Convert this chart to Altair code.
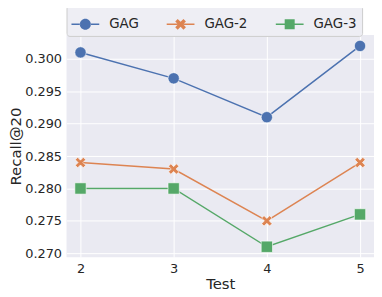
import altair as alt
import pandas as pd

tests = [2, 3, 4, 5]
series_names = ["GAG", "GAG-2", "GAG-3"]
gag = [0.301, 0.297, 0.291, 0.302]
gag2 = [0.284, 0.283, 0.275, 0.284]
gag3 = [0.280, 0.280, 0.271, 0.276]
y_ticks = [0.270, 0.275, 0.280, 0.285, 0.290, 0.295, 0.300]

colors = ["#4C72B0", "#DD8452", "#55A868"]

rows = []
for name, vals in zip(series_names, [gag, gag2, gag3]):
    for t, v in zip(tests, vals):
        rows.append({"Test": t, "Recall": v, "Series": name})
df = pd.DataFrame(rows)

X_PTS = [(0.919, -0.495), (0.424, 0), (0.919, 0.495), (0.495, 0.919), (0, 0.424),
         (-0.495, 0.919), (-0.919, 0.495), (-0.424, 0), (-0.919, -0.495),
         (-0.495, -0.919), (0, -0.424), (0.495, -0.919)]


def x_path(k):
    return "M" + "L".join(f"{x*k:.3f},{y*k:.3f}" for x, y in X_PTS) + "Z"


def segs(gap, t=0.055):
    return (f"M-1,-{t}L-{gap},-{t}L-{gap},{t}L-1,{t}Z"
            f"M{gap},-{t}L1,-{t}L1,{t}L{gap},{t}Z")


plot_shapes = ["circle", x_path(1.0), "square"]

LEG_CIRCLE = segs(0.38) + "M-0.4,0A0.4,0.4,0,1,0,0.4,0A0.4,0.4,0,1,0,-0.4,0Z"
LEG_X = segs(0.2) + x_path(0.42)
LEG_SQ = segs(0.36) + "M-0.36,-0.36L0.36,-0.36L0.36,0.36L-0.36,0.36Z"
legend_shapes = [LEG_CIRCLE, LEG_X, LEG_SQ]

color_scale = alt.Scale(domain=series_names, range=colors)

x_enc = alt.X("Test:Q", scale=alt.Scale(domain=[1.85, 5.15], nice=False),
              axis=alt.Axis(values=tests, format="d", title="Test"))
y_enc = alt.Y("Recall:Q", scale=alt.Scale(domain=[0.2694, 0.3037], nice=False, zero=False),
              axis=alt.Axis(values=y_ticks, format=".3f", title="Recall@20"))

base = alt.Chart(df)

legend = alt.Legend(
    title=None, orient="none", legendX=0, legendY=-30, direction="horizontal",
    fillColor="#EEEEF4", strokeColor="#CCCCCC", cornerRadius=3, padding=5,
    labelFontSize=13.5, labelColor="#262626", labelFont="DejaVu Sans",
    symbolSize=784, labelOffset=10, columnPadding=28,
    symbolStrokeWidth=0, symbolOpacity=1,
)

legend_layer = base.mark_point(filled=True, size=0).encode(
    x=x_enc, y=y_enc,
    color=alt.Color("Series:N", scale=color_scale, legend=legend),
    shape=alt.Shape("Series:N", scale=alt.Scale(domain=series_names, range=legend_shapes), legend=legend),
)

lines = base.mark_line(strokeWidth=1.5).encode(
    x=x_enc, y=y_enc,
    color=alt.Color("Series:N", scale=color_scale),
    detail="Series:N",
)

point_layers = []
for name, shp in zip(series_names, plot_shapes):
    point_layers.append(
        base.transform_filter(alt.datum.Series == name).mark_point(
            filled=True, opacity=1, stroke="white", strokeWidth=0.6, size=130, shape=shp
        ).encode(
            x=x_enc, y=y_enc,
            color=alt.Color("Series:N", scale=color_scale),
        )
    )

chart = alt.layer(legend_layer, lines, *point_layers).properties(
    width=310, height=224,
    padding={"left": 0, "top": -5, "right": 0, "bottom": 0},
).configure_view(
    fill="#EAEAF2", stroke=None,
).configure_axis(
    grid=True, gridColor="white", gridWidth=1, domain=False, ticks=False,
    labelFont="DejaVu Sans", titleFont="DejaVu Sans", labelFontSize=13, titleFontSize=15,
    labelColor="#262626", titleColor="#262626", titleFontWeight="normal",
    labelPadding=5,
).configure_axisY(
    titlePadding=1,
).configure_axisX(
    titlePadding=2,
)

chart.save("out.html", embed_options={"renderer": "svg", "actions": False})
